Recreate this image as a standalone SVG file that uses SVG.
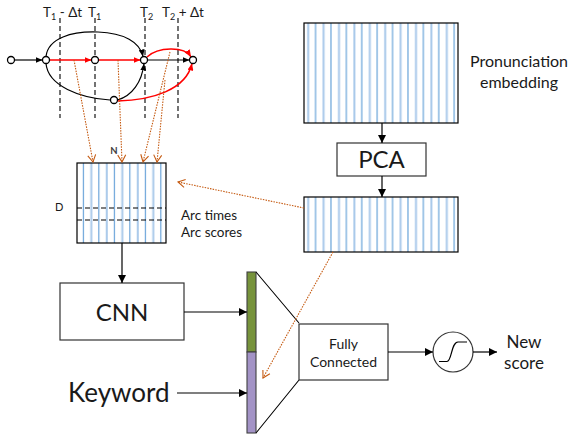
<svg xmlns="http://www.w3.org/2000/svg" width="570" height="436" viewBox="0 0 570 436">
<style>
text{font-family:Lato,"Liberation Sans",sans-serif;fill:#1a1a1a}
.blk{stroke:#000;stroke-width:1.2;fill:none}
.red{stroke:#ff0000;stroke-width:1.5;fill:none}
.dash{stroke:#000;stroke-width:1.1;stroke-dasharray:5 3;fill:none}
.org{stroke:#c55a11;stroke-width:1.1;stroke-dasharray:1.5 1.2;fill:none;marker-end:url(#ao)}
.st{fill:#fff;stroke:#000;stroke-width:1.3}
.box{fill:#fff;stroke:#333;stroke-width:1.2}
.arr{stroke:#000;stroke-width:1.2;fill:none;marker-end:url(#ab)}
</style>
<defs>
<marker id="ab" markerWidth="8" markerHeight="8" refX="8" refY="4" orient="auto" markerUnits="userSpaceOnUse"><path d="M0,0 L8,4 L0,8 z" fill="#000"/></marker>
<marker id="abs" markerWidth="7" markerHeight="6" refX="7" refY="3" orient="auto" markerUnits="userSpaceOnUse"><path d="M0,0 L7,3 L0,6 z" fill="#000"/></marker>
<marker id="ar" markerWidth="7" markerHeight="6" refX="7" refY="3" orient="auto" markerUnits="userSpaceOnUse"><path d="M0,0 L7,3 L0,6 z" fill="#ff0000"/></marker>
<marker id="ao" markerWidth="9" markerHeight="10" refX="8" refY="5" orient="auto" markerUnits="userSpaceOnUse"><path d="M1,1 L8,5 L1,9" fill="none" stroke="#c55a11" stroke-width="1.1"/></marker>
<pattern id="pA" patternUnits="userSpaceOnUse" x="304" y="0" width="15.4" height="10"><rect x="3.2" y="0" width="2" height="10" fill="#a9c9ea"/><rect x="11" y="0" width="1.1" height="10" fill="#5b9bd5"/></pattern>
<pattern id="pB" patternUnits="userSpaceOnUse" x="77" y="0" width="15.5" height="10"><rect x="5.8" y="0" width="1.1" height="10" fill="#5b9bd5"/><rect x="13.3" y="0" width="2" height="10" fill="#a9c9ea"/></pattern>
</defs>
<rect width="570" height="436" fill="#fff"/>

<g id="time-labels">
<text x="43" y="17" font-size="13.5">T<tspan font-size="9" dy="3">1</tspan><tspan dy="-3"> - Δt</tspan></text>
<text x="88" y="17" font-size="13.5">T<tspan font-size="9" dy="3">1</tspan></text>
<text x="140" y="17" font-size="13.5">T<tspan font-size="9" dy="3">2</tspan></text>
<text x="162" y="17" font-size="13.5">T<tspan font-size="9" dy="3">2</tspan><tspan dy="-3"> + Δt</tspan></text>
<line class="dash" x1="60" y1="18" x2="60" y2="118"/>
<line class="dash" x1="95" y1="18" x2="95" y2="118"/>
<line class="dash" x1="145" y1="18" x2="145" y2="118"/>
<line class="dash" x1="178" y1="18" x2="178" y2="118"/>
</g>

<g id="lattice">
<path class="blk" d="M15,60 L42.5,60" marker-end="url(#abs)"/>
<path class="red" d="M49.5,60 L91.5,60" marker-end="url(#ar)"/>
<path class="red" d="M98.5,60 L140.5,60" marker-end="url(#ar)"/>
<path class="blk" d="M147.5,60 L189.5,60" marker-end="url(#abs)"/>
<path class="blk" d="M46,56.5 C48,38 72,31 98,32 C124,33 140,42 143,56.5" marker-end="url(#abs)"/>
<path class="blk" d="M46,63.5 C48,86 80,98 110,100"/>
<path class="blk" d="M117.5,100 C132,96 142,82 144,63.5" marker-end="url(#abs)"/>
<path class="red" d="M147,57 C158,47 184,46 191,56.8" marker-end="url(#ar)"/>
<path class="red" d="M117.5,101 C152,100 186,90 192,63.5" marker-end="url(#ar)"/>
<circle class="st" cx="11" cy="60" r="3.5"/>
<circle class="st" cx="46" cy="60" r="3.5"/>
<circle class="st" cx="95" cy="60" r="3.5"/>
<circle class="st" cx="144" cy="60" r="3.5"/>
<circle class="st" cx="193" cy="60" r="3.5"/>
<circle class="st" cx="114" cy="100" r="3.5"/>
</g>

<g id="arc-matrix">
<rect x="77" y="163" width="89" height="80" fill="url(#pB)" stroke="#000" stroke-width="1.2"/>
<line class="dash" x1="77" y1="208" x2="166" y2="208"/>
<line class="dash" x1="77" y1="220" x2="166" y2="220"/>
<text x="114" y="154" font-size="9.5" text-anchor="middle" style="fill:#404040;font-weight:bold">N</text>
<text x="55" y="211" font-size="11">D</text>
<text x="181" y="220" font-size="13.5">Arc times</text>
<text x="181" y="237" font-size="13.5">Arc scores</text>
</g>

<g id="pron-embedding">
<rect x="304" y="23" width="154" height="100" fill="url(#pA)" stroke="#000" stroke-width="1.2"/>
<text x="519" y="67" font-size="16" text-anchor="middle">Pronunciation</text>
<text x="519" y="88" font-size="16" text-anchor="middle">embedding</text>
</g>

<g id="pca">
<rect class="box" x="337" y="143" width="89" height="33"/>
<text x="381.5" y="168" font-size="24" text-anchor="middle">PCA</text>
</g>

<g id="pca-out">
<rect x="304" y="197" width="154" height="55" fill="url(#pA)" stroke="#000" stroke-width="1.2"/>
</g>

<g id="cnn">
<rect class="box" x="60" y="283" width="124" height="57"/>
<text x="122" y="321" font-size="24" text-anchor="middle">CNN</text>
</g>

<g id="keyword">
<text x="68" y="402" font-size="26">Keyword</text>
</g>

<g id="concat">
<rect x="247" y="272" width="9" height="80" fill="#77933c" stroke="#404040" stroke-width="1.1"/>
<rect x="247" y="352" width="9" height="81" fill="#a393c6" stroke="#404040" stroke-width="1.1"/>
<path d="M256,272 L299,323 M256,433 L299,380" stroke="#000" stroke-width="1.1" fill="none"/>
</g>

<g id="fc">
<rect class="box" x="299" y="324" width="89" height="56"/>
<text x="343.5" y="349" font-size="14" text-anchor="middle">Fully</text>
<text x="343.5" y="367" font-size="14" text-anchor="middle">Connected</text>
</g>

<g id="sigmoid">
<circle cx="453" cy="352" r="20" fill="#fff" stroke="#333" stroke-width="1.2"/>
<path d="M439,361.5 L447,361.5 C452,361.5 451,342 458,342 L467,342" fill="none" stroke="#000" stroke-width="1.2"/>
</g>

<g id="new-score">
<text x="524" y="348" font-size="17" text-anchor="middle">New</text>
<text x="524" y="369" font-size="17" text-anchor="middle">score</text>
</g>

<g id="connectors">
<path class="org" d="M74,60 L93,162"/>
<path class="org" d="M118,60 L122,162"/>
<path class="org" d="M170,52 L143,162"/>
<path class="org" d="M165,80 L157,162"/>
<path class="org" d="M304,208 L178,182"/>
<path class="org" d="M333,252 L263,378"/>
<path class="arr" d="M122,243 L122,283"/>
<path class="arr" d="M382,123 L382,143"/>
<path class="arr" d="M382,176 L382,197"/>
<path class="arr" d="M184,312 L247,312"/>
<path class="arr" d="M177,393 L247,393"/>
<path class="arr" d="M388,352 L433,352"/>
<path class="arr" d="M473,352 L497,352"/>
</g>
</svg>
